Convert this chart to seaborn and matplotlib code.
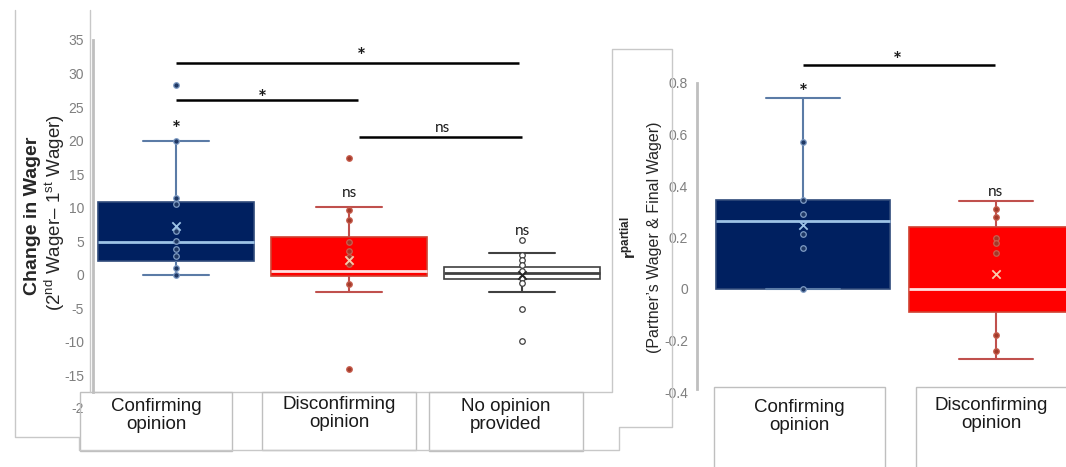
import numpy as np
import pandas as pd
import matplotlib.pyplot as plt
import seaborn as sns
from matplotlib.lines import Line2D
from matplotlib.patches import Rectangle

# ---- left panel: change in wager ----
left_groups = ['Confirming opinion', 'Disconfirming opinion', 'No opinion provided']
left_labels = ['Confirming\nopinion', 'Disconfirming\nopinion', 'No opinion\nprovided']
# lower whisker, Q1, median, Q3, upper whisker
left_conf_box = [0.0, 2.0, 4.8, 10.8, 20.0]
left_disc_box = [-2.6, -0.2, 0.6, 5.6, 10.1]
left_none_box = [-2.6, -0.6, 0.2, 1.2, 3.3]
left_means = [7.3, 2.2, 0.0]
left_conf_points = [28.3, 20.0, 11.4, 10.6, 6.5, 5.0, 3.8, 2.8, 1.0, 0.0]
left_disc_points = [17.4, 9.7, 8.1, 4.8, 3.6, 2.6, 1.6, -1.4, -14.0]
left_none_points = [5.1, 3.0, 2.2, 1.5, 0.5, -0.5, -1.2, -5.1, -9.9]
left_yticks = [-15, -10, -5, 0, 5, 10, 15, 20, 25, 30, 35]
# x from, x to, line y, label, label x, label y
left_brackets = [(0, 1.98, 31.6, '*', 1.07, 32.9), (0, 1.05, 26.0, '*', 0.5, 26.6),
                 (1.06, 2.0, 20.5, 'ns', 1.54, 20.6)]
left_marks = ['*', 'ns', 'ns']
left_mark_y = [22.0, 10.9, 5.3]

# ---- right panel: partial correlation ----
right_groups = ['Confirming opinion', 'Disconfirming opinion']
right_labels = ['Confirming\nopinion', 'Disconfirming\nopinion']
right_conf_box = [0.0, 0.0, 0.265, 0.345, 0.74]
right_disc_box = [-0.27, -0.09, 0.0, 0.24, 0.34]
right_means = [0.25, 0.06]
right_conf_points = [0.57, 0.345, 0.29, 0.215, 0.16, 0.0]
right_disc_points = [0.31, 0.28, 0.20, 0.18, 0.14, -0.18, -0.24]
right_yticks = [-0.4, -0.2, 0, 0.2, 0.4, 0.6, 0.8]
right_brackets = [(0, 0.995, 0.87, '*', 0.49, 0.897)]
right_marks = ['*', 'ns']
right_mark_y = [0.773, 0.345]

STYLES = {
    'navy': dict(fill='#002060', edge='#2F4A7A', median='#9DC3E6', whisker='#5B7BA6',
                 dot_face='#1F3864', dot_edge='#7F9CC4', mean='#9DC3E6'),
    'red': dict(fill='#FF0000', edge='#D04030', median='#FFE0E0', whisker='#C0504D',
                dot_face='#A33A2A', dot_edge='#C86050', mean='#F8CBAD'),
    'white': dict(fill='white', edge='#404040', median='#404040', whisker='#404040',
                  dot_face='white', dot_edge='#404040', mean='#262626'),
}

W, H = 1066, 467
FRAME = '#C8C8C8'


def fx(x):
    return x / W


def fy(y):
    return 1 - y / H


def draw_group(ax, order, name, box_vals, points, mean, st):
    """One box with its points and mean marker."""
    box_df = pd.DataFrame({'group': name, 'value': box_vals})
    sns.boxplot(data=box_df, x='group', y='value', order=order, width=0.9, whis=(0, 100),
                saturation=1, color=st['fill'], linecolor=st['edge'], linewidth=1.2,
                showfliers=False, capwidths=0.38,
                medianprops=dict(color=st['median'], linewidth=2),
                whiskerprops=dict(color=st['whisker'], linewidth=1.5),
                capprops=dict(color=st['whisker'], linewidth=1.5), ax=ax)
    pts = pd.DataFrame({'group': name, 'value': points})
    sns.stripplot(data=pts, x='group', y='value', order=order, jitter=False, size=4,
                  color=st['dot_face'], edgecolor=st['dot_edge'], linewidth=0.9,
                  ax=ax, zorder=3)
    sns.stripplot(x=[name], y=[mean], order=order, jitter=False, marker='x', size=6,
                  color=st['mean'], linewidth=1.3, ax=ax, zorder=4)


def put_label(ax, x, y, txt):
    """Stars are centred on y, 'ns' sits with its bottom on y."""
    if txt == '*':
        ax.annotate(txt, (x, y), xytext=(0, -6.5), textcoords='offset points',
                    ha='center', va='baseline', fontsize=15, family='Lato',
                    fontweight='bold', color='#1A1A1A', annotation_clip=False)
    else:
        ax.annotate(txt, (x, y), xytext=(0, 1), textcoords='offset points',
                    ha='center', va='bottom', fontsize=11, family='Lato',
                    color='#1A1A1A', annotation_clip=False)


def add_marks(ax, brackets, marks, mark_y):
    for x0, x1, y, txt, tx, ty in brackets:
        ax.plot([x0, x1], [y, y], color='black', lw=1.8, clip_on=False, solid_capstyle='butt')
        put_label(ax, tx, ty, txt)
    for i, (txt, y) in enumerate(zip(marks, mark_y)):
        put_label(ax, i, y, txt)


def style_axis(ax, ticks, labels, pad, ticklen):
    ax.set_yticks(ticks)
    ax.set_yticklabels(labels)
    ax.set_xticks([])
    ax.set_xlabel('')
    ax.set_ylabel('')
    ax.tick_params(axis='y', colors='#7F7F7F', labelsize=10, length=ticklen, width=1, pad=pad)
    for side in ['top', 'right', 'bottom']:
        ax.spines[side].set_visible(False)
    ax.spines['left'].set_color('#BFBFBF')
    ax.spines['left'].set_linewidth(2)


sns.set_theme(style='white')
plt.rcParams['font.family'] = ['Liberation Sans', 'DejaVu Sans']
plt.rcParams['mathtext.fontset'] = 'custom'
plt.rcParams['mathtext.rm'] = 'Liberation Sans'
plt.rcParams['mathtext.bf'] = 'Liberation Sans:bold'
plt.rcParams['mathtext.it'] = 'Liberation Sans:italic'

fig = plt.figure(figsize=(W / 100, H / 100), dpi=100)
fig.patch.set_facecolor('white')

# left panel
ax_l = fig.add_axes([fx(93), fy(392), fx(611) - fx(93), fy(40) - fy(392)])
ax_l.patch.set_alpha(0)
for name, box, pts, mean, key in zip(left_groups,
                                     [left_conf_box, left_disc_box, left_none_box],
                                     [left_conf_points, left_disc_points, left_none_points],
                                     left_means, ['navy', 'red', 'white']):
    draw_group(ax_l, left_groups, name, box, pts, mean, STYLES[key])
ax_l.set_xlim(-0.48, 2.514)
ax_l.set_ylim(-17.5, 35)
style_axis(ax_l, left_yticks, [str(t) for t in left_yticks], 3.5, 3)
ax_l.spines['bottom'].set_visible(True)
ax_l.spines['bottom'].set_color(FRAME)
ax_l.spines['bottom'].set_linewidth(1)
ax_l.text(-0.53, -20, '-2', ha='right', va='center', color='#7F7F7F', fontsize=10, clip_on=False)
add_marks(ax_l, left_brackets, left_marks, left_mark_y)

# right panel
ax_r = fig.add_axes([fx(697), fy(392), fx(1066) - fx(697), fy(83) - fy(392)])
ax_r.patch.set_alpha(0)
for name, box, pts, mean, key in zip(right_groups,
                                     [right_conf_box, right_disc_box],
                                     [right_conf_points, right_disc_points],
                                     right_means, ['navy', 'red']):
    draw_group(ax_r, right_groups, name, box, pts, mean, STYLES[key])
ax_r.set_xlim(-0.549, 1.363)
ax_r.set_ylim(-0.4, 0.8)
style_axis(ax_r, right_yticks, ['-0.4', '-0.2', '0', '0.2', '0.4', '0.6', '0.8'], 6.5, 0)
ax_r.spines['left'].set_bounds(-0.39, 0.8)
add_marks(ax_r, right_brackets, right_marks, right_mark_y)

# y axis titles
fig.text(fx(33), fy(216), 'Change in Wager', rotation=90, ha='center', va='center',
         fontsize=14, fontweight='bold')
fig.text(fx(55), fy(213), '(2$^{\\rm nd}$ Wager\u2013 1$^{\\rm st}$ Wager)', rotation=90,
         ha='center', va='center', fontsize=13.5)
fig.text(fx(628), fy(238), '$\\mathbf{r}^{\\mathbf{partial}}$', rotation=90, ha='center',
         va='center', fontsize=12)
fig.text(fx(655), fy(237), '(Partner\u2019s Wager & Final Wager)', rotation=90,
         ha='center', va='center', fontsize=11.5)

# category label boxes
label_boxes = [((80, 232), 392, 451, 398), ((262, 416), 392, 450, 396), ((429, 583), 392, 451, 398),
               ((714, 885), 387, 470, 399), ((916, 1075), 387, 470, 397)]
for ((x0, x1), y0, y1, ty), text in zip(label_boxes, left_labels + right_labels):
    fig.add_artist(Rectangle((fx(x0), fy(y1)), fx(x1) - fx(x0), fy(y0) - fy(y1),
                             transform=fig.transFigure, fill=False, ec='#BFBFBF', lw=1))
    fig.text(fx((x0 + min(x1, 1066)) / 2), fy(ty), text, ha='center', va='top',
             fontsize=13.5, color='#1A1A1A', linespacing=1.1)

# frame lines from the pasted slide boxes
frame_paths = [
    [(15, 10), (15, 437), (79, 437), (79, 450), (619, 450), (619, 427), (672, 427), (672, 49),
     (612, 49), (612, 392)],
    [(90, 10), (90, 392)],
]
for path in frame_paths:
    xs = [fx(p[0]) for p in path]
    ys = [fy(p[1]) for p in path]
    fig.add_artist(Line2D(xs, ys, transform=fig.transFigure, color=FRAME, lw=1))

fig.savefig('out.png', dpi=100)
